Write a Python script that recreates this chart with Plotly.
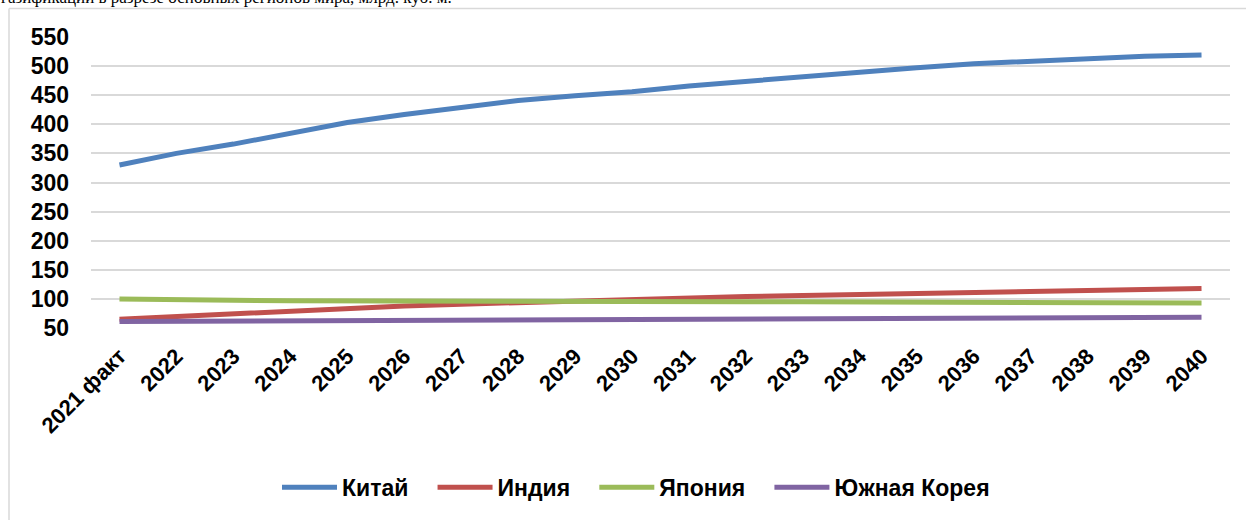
import plotly.graph_objects as go

categories = ["2021 факт", "2022", "2023", "2024", "2025", "2026", "2027", "2028", "2029", "2030",
              "2031", "2032", "2033", "2034", "2035", "2036", "2037", "2038", "2039", "2040"]

china = [330, 350, 366, 385, 403, 417, 429, 441, 449, 456, 466, 474, 482, 491, 497, 504, 509, 514, 517, 519]
india = [65, 70, 75, 80, 84, 88, 91, 94, 97, 99, 102, 104, 106, 108, 110, 112, 113, 115, 116, 118]
japan = [100, 98, 97.5, 97, 96.5, 96, 96, 95.5, 95.5, 95, 95, 95, 95, 95, 95, 94.5, 94, 93.5, 93.5, 93]
korea = [61, 61.5, 62, 62.5, 63, 63, 63.5, 64, 64, 64.5, 65, 65, 65.5, 66, 66, 66.5, 67, 67.5, 68, 68.5]

series_names = ["Китай", "Индия", "Япония", "Южная Корея"]
series_values = [china, india, japan, korea]
colors = ["#4F81BD", "#C0504D", "#9BBB59", "#8064A2"]

FONT = "Liberation Sans, Arial, sans-serif"
PAD = "\u00a0\u00a0\u00a0"

fig = go.Figure()
for i, (name, vals, col) in enumerate(zip(series_names, series_values, colors)):
    label = name + (PAD if i < len(series_names) - 1 else "")
    fig.add_trace(go.Scatter(x=categories, y=vals, name=label, mode="lines",
                             line=dict(color=col, width=5)))

# plot area pixel geometry
W, H = 1246, 520
L, R, T, B = 91, 16, 37, 187
pw, ph = W - L - R, H - T - B

def px_x(x):
    return (x - L) / pw

def px_y(y):
    return (H - B - y) / ph

fig.update_layout(
    width=W, height=H,
    margin=dict(l=L, r=R, t=T, b=B, pad=0),
    paper_bgcolor="white", plot_bgcolor="white",
    font=dict(family=FONT, color="black"),
    showlegend=True,
    legend=dict(orientation="h", x=px_x(636), xanchor="center", y=px_y(495), yanchor="middle",
                font=dict(family=FONT, size=23, color="black", weight="bold"),
                itemwidth=55, bgcolor="rgba(0,0,0,0)"),
    xaxis=dict(type="category", range=[-0.5, 19.5], showgrid=False, zeroline=False, showline=False,
               tickangle=-45, ticks="", ticklabelstandoff=10,
               tickfont=dict(family=FONT, size=22, color="black", weight="bold")),
    yaxis=dict(range=[50, 550], dtick=50, tick0=50, showgrid=True, gridcolor="#D9D9D9", gridwidth=1.5,
               zeroline=False, showline=False, ticks="", ticklabelstandoff=21,
               tickfont=dict(family=FONT, size=23, color="black", weight="bold")),
    shapes=[
        dict(type="line", xref="paper", yref="paper", x0=px_x(9), x1=px_x(1300), y0=px_y(8), y1=px_y(8),
             line=dict(color="#D9D9D9", width=1.5), layer="below"),
        dict(type="line", xref="paper", yref="paper", x0=px_x(9), x1=px_x(9), y0=px_y(8), y1=px_y(600),
             line=dict(color="#D9D9D9", width=1.5), layer="below"),
    ],
    annotations=[
        dict(text="газификации в разрезе основных регионов мира, млрд. куб. м.", xref="paper", yref="paper",
             x=px_x(-1), y=px_y(-3), xanchor="left", yanchor="middle", showarrow=False,
             font=dict(family="Liberation Serif, Times New Roman, serif", size=17, color="black")),
    ],
)

fig.write_html("out.html", config={"displayModeBar": False},
               post_script="document.body.style.margin='0';document.body.style.overflow='hidden';")
